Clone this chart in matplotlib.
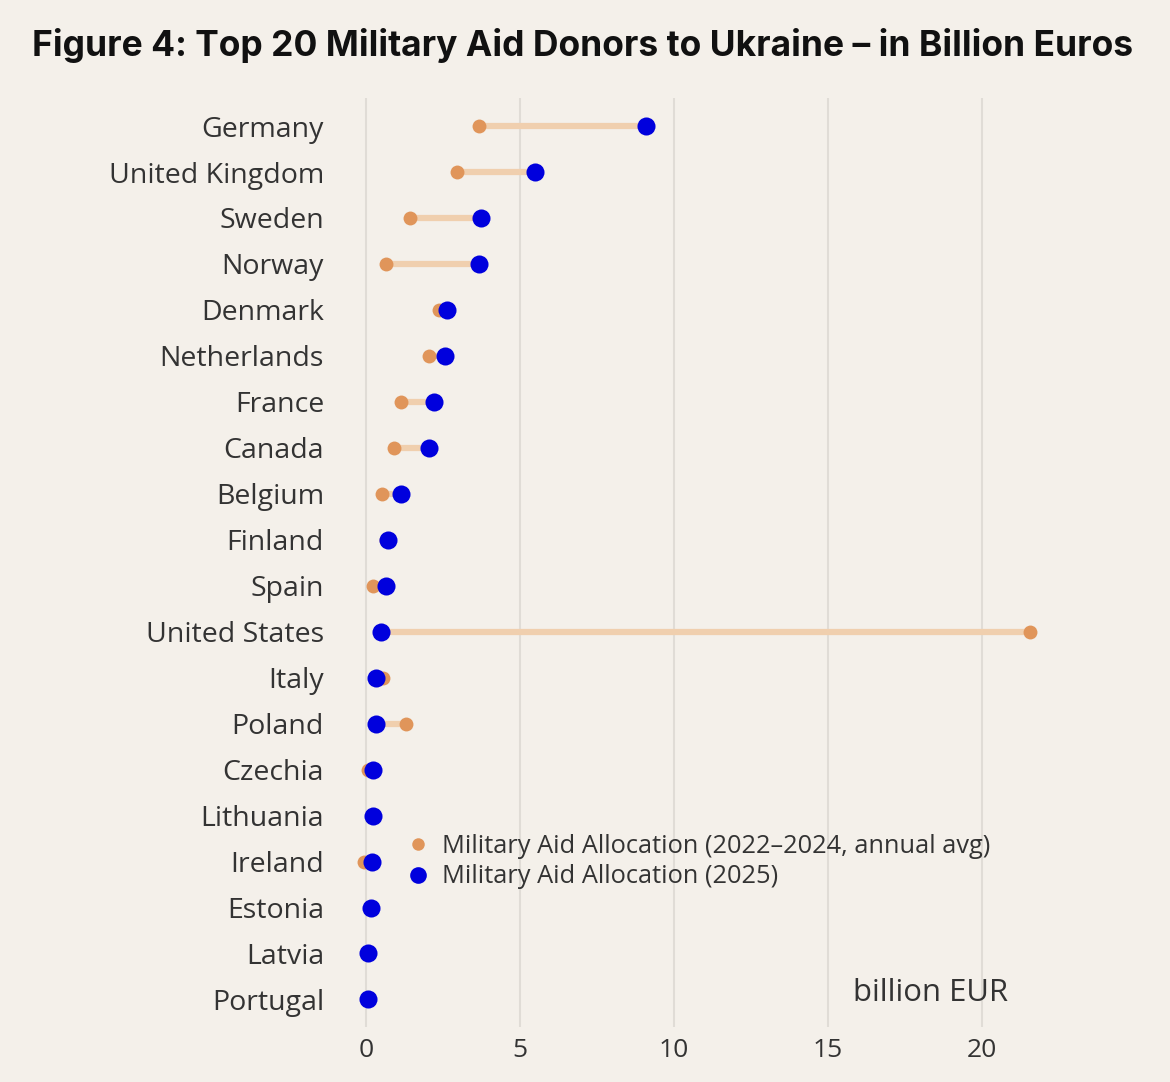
import matplotlib
matplotlib.use("Agg")
import matplotlib.pyplot as plt
from matplotlib.lines import Line2D

countries = ["Germany", "United Kingdom", "Sweden", "Norway", "Denmark", "Netherlands",
             "France", "Canada", "Belgium", "Finland", "Spain", "United States", "Italy",
             "Poland", "Czechia", "Lithuania", "Ireland", "Estonia", "Latvia", "Portugal"]
avg_2022_2024 = [3.67, 2.97, 1.42, 0.66, 2.37, 2.04, 1.15, 0.90, 0.52, 0.65, 0.24, 21.56,
                 0.55, 1.31, 0.05, 0.20, -0.05, 0.14, 0.06, 0.06]
alloc_2025 = [9.09, 5.49, 3.74, 3.66, 2.63, 2.56, 2.22, 2.04, 1.15, 0.71, 0.64, 0.48,
              0.32, 0.31, 0.22, 0.22, 0.19, 0.16, 0.08, 0.08]
xticks = [0, 5, 10, 15, 20]
legend_labels = ["Military Aid Allocation (2022\u20132024, annual avg)",
                 "Military Aid Allocation (2025)"]

BG = "#f4f0ea"
ORANGE = "#e0955a"
LINE = "#f0cfae"
BLUE = "#0000dd"
TXT = "#333333"

fig = plt.figure(figsize=(11.7, 10.82), dpi=100, facecolor=BG)
ax = fig.add_axes([0.2865, 0.0508, 0.6185, 0.8582])
ax.set_facecolor(BG)

ypos = list(range(len(countries)))
for y, a, b in zip(ypos, avg_2022_2024, alloc_2025):
    ax.plot([a, b], [y, y], color=LINE, lw=4.5, solid_capstyle="butt", zorder=2)
ax.plot(avg_2022_2024, ypos, "o", color=ORANGE, ms=10, mec="none", zorder=3)
ax.plot(alloc_2025, ypos, "o", color=BLUE, ms=13, mec="none", zorder=4)

ax.set_xlim(-1, 22.5)
ax.set_ylim(len(countries) - 0.4, -0.6)
ax.set_xticks(xticks)
ax.set_xticklabels([str(t) for t in xticks], fontsize=19, color=TXT, family="Open Sans")
ax.set_yticks(ypos)
ax.set_yticklabels(countries, fontsize=20.5, color=TXT, family="Open Sans")
ax.tick_params(axis="both", length=0)
ax.tick_params(axis="y", pad=8)
ax.tick_params(axis="x", pad=8)
for s in ax.spines.values():
    s.set_visible(False)
ax.grid(axis="x", color="#e0dcd6", lw=1.5)
ax.set_axisbelow(True)

handles = [Line2D([], [], marker="o", ls="none", color=ORANGE, ms=9, mec="none"),
           Line2D([], [], marker="o", ls="none", color=BLUE, ms=12, mec="none")]
leg = ax.legend(handles, legend_labels, loc="upper left", bbox_to_anchor=(0.083, 0.219),
                frameon=False, prop={"family": "Open Sans", "size": 18.3},
                handletextpad=0.45, labelspacing=0.22, handlelength=1.0, borderaxespad=0)
for t in leg.get_texts():
    t.set_color(TXT)

ax.text(20.86, 18.85, "billion EUR", fontsize=22.4, color=TXT, family="Open Sans",
        ha="right", va="center")

fig.text(0.027, 0.958, "Figure 4: Top 20 Military Aid Donors to Ukraine \u2013 in Billion Euros",
         fontsize=25.5, fontweight="bold", family="Inter", color="#111111",
         ha="left", va="center")

fig.savefig("out.png", dpi=100, facecolor=BG)
